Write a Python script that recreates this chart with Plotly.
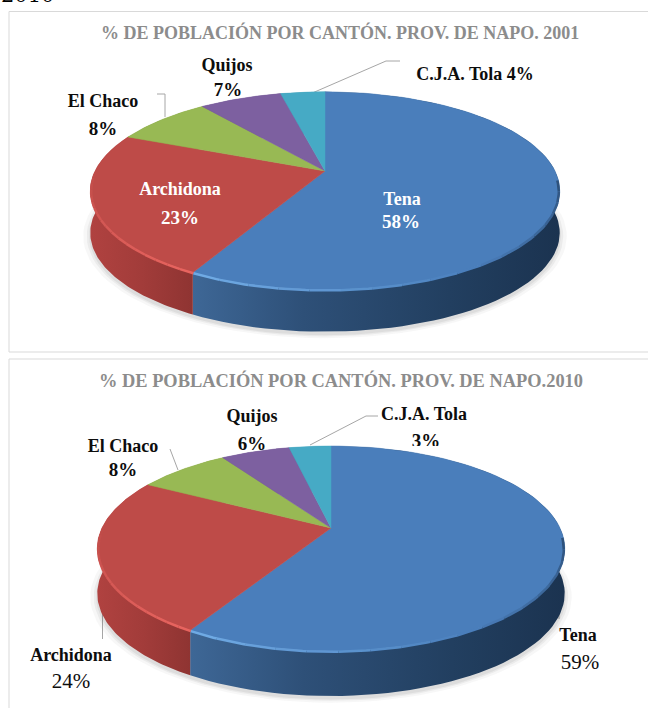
import math
import plotly.graph_objects as go

# ---- data ----
cantones = ["Tena", "Archidona", "El Chaco", "Quijos", "C.J.A. Tola"]
valores_2001 = [57.85, 23.45, 8.1, 6.9, 3.7]
etiquetas_2001 = ["58%", "23%", "8%", "7%", "4%"]
valores_2010 = [58.5, 24.5, 7.7, 5.8, 3.5]
etiquetas_2010 = ["59%", "24%", "8%", "6%", "3%"]
titulo_2001 = "% DE POBLACIÓN POR CANTÓN. PROV. DE NAPO. 2001"
titulo_2010 = "% DE POBLACIÓN POR CANTÓN. PROV. DE NAPO.2010"

# ---- styles ----
W, H = 648, 708
FONT = "Liberation Serif"
NOMBRE, PCT = 18, 19
cara = ["#4A7EBB", "#BE4B48", "#98B954", "#7D60A0", "#46AAC5"]
pared = [
    [[0, "#3E6796"], [0.3, "#2E5078"], [0.7, "#223F60"], [1, "#1B3350"]],
    [[0, "#B04240"], [0.5, "#A23C3A"], [1, "#8F3432"]],
    [[0, "#7A9440"], [1, "#7A9440"]],
    [[0, "#64497F"], [1, "#64497F"]],
    [[0, "#358CA3"], [1, "#358CA3"]],
]
K = 0.2  # perspective of the tilted disc

paneles = [
    dict(vals=valores_2001, x0=9, x1=648, y0=11.5, y1=352, cx=325, cy=171, a=230, b=95, depth=42, xa="x", ya="y"),
    dict(vals=valores_2010, x0=9, x1=648, y0=359, y1=708, cx=331, cy=528, a=229, b=98.4, depth=45, xa="x2", ya="y2"),
]


def proj(theta):
    u, v = math.sin(theta), math.cos(theta)
    d = 1 + K * v
    return u / d, v / d


def arco(t0, t1, n=90):
    pts = [proj(t0 + (t1 - t0) * i / n) for i in range(n + 1)]
    return [p[0] for p in pts], [p[1] for p in pts]


def mezcla(c1, c2, t):
    a = [int(c1[i:i + 2], 16) for i in (1, 3, 5)]
    b = [int(c2[i:i + 2], 16) for i in (1, 3, 5)]
    return "#%02x%02x%02x" % tuple(round(a[i] + (b[i] - a[i]) * t) for i in range(3))


fig = go.Figure()


def texto(p, etiquetas):
    xs = [(e[1] - p["cx"]) / p["a"] for e in etiquetas]
    ys = [(p["cy"] - e[2]) / p["b"] for e in etiquetas]
    fig.add_trace(go.Scatter(
        x=xs, y=ys, mode="text", text=[e[0] for e in etiquetas],
        textposition="middle center", cliponaxis=False,
        textfont=dict(family=FONT, size=[e[3] for e in etiquetas], color=[e[4] for e in etiquetas]),
        xaxis=p["xa"], yaxis=p["ya"], hoverinfo="skip", showlegend=False))


def linea(p, pts, color="#A6A6A6", width=1):
    fig.add_trace(go.Scatter(
        x=[(q[0] - p["cx"]) / p["a"] for q in pts],
        y=[(p["cy"] - q[1]) / p["b"] for q in pts],
        mode="lines", line=dict(color=color, width=width),
        xaxis=p["xa"], yaxis=p["ya"], hoverinfo="skip", showlegend=False))


def tapa(p, x0, x1, y0, y1):
    fig.add_trace(go.Scatter(
        x=[(q - p["cx"]) / p["a"] for q in (x0, x1, x1, x0, x0)],
        y=[(p["cy"] - q) / p["b"] for q in (y0, y0, y1, y1, y0)],
        mode="lines", fill="toself", fillcolor="#FFFFFF", line=dict(width=0),
        xaxis=p["xa"], yaxis=p["ya"], hoverinfo="skip", showlegend=False))


def pastel(p):
    vals = p["vals"]
    total = sum(vals)
    dz = p["depth"] / p["b"]
    xa, ya = p["xa"], p["ya"]
    cortes = [0]
    for v in vals:
        cortes.append(cortes[-1] + v / total * 2 * math.pi)
    # soft shadow under the disc
    xb, yb = arco(0, 2 * math.pi, 120)
    for grow, alpha in ((1.03, 0.05), (1.015, 0.07), (1.005, 0.09)):
        fig.add_trace(go.Scatter(
            x=[q * grow for q in xb], y=[q * grow - dz - 0.03 for q in yb],
            mode="lines", fill="toself", fillcolor=f"rgba(90,90,90,{alpha})", line=dict(width=0),
            xaxis=xa, yaxis=ya, hoverinfo="skip", showlegend=False))
    # side wall of every slice
    for i in range(len(vals)):
        xs, ys = arco(cortes[i], cortes[i + 1])
        fig.add_trace(go.Scatter(
            x=xs + xs[::-1], y=ys + [q - dz for q in ys[::-1]],
            mode="lines", fill="toself", line=dict(width=0),
            fillgradient=dict(type="horizontal", colorscale=pared[i]),
            xaxis=xa, yaxis=ya, hoverinfo="skip", showlegend=False))
    # top face of every slice
    for i in range(len(vals)):
        xs, ys = arco(cortes[i], cortes[i + 1])
        fig.add_trace(go.Scatter(
            x=[0] + xs + [0], y=[0] + ys + [0], name=cantones[i],
            mode="lines", fill="toself", fillcolor=cara[i], line=dict(width=0.5, color=cara[i]),
            xaxis=xa, yaxis=ya, hoverinfo="name", showlegend=False))
    # bevel on the front rim
    t_corte = cortes[1]
    pasos = 18
    for j in range(pasos):
        f0, f1 = j / pasos, (j + 1) / pasos
        t0 = t_corte - (t_corte - math.radians(95)) * f0
        t1 = t_corte - (t_corte - math.radians(95)) * f1
        if f0 < 0.5:
            col = mezcla("#6FAAE4", "#4A7EBB", f0 / 0.5)
        else:
            col = mezcla("#4A7EBB", "#2B4C74", (f0 - 0.5) / 0.5)
        xs, ys = arco(t0, t1, 8)
        fig.add_trace(go.Scatter(
            x=[q * 0.996 for q in xs], y=[q * 0.996 - 0.012 for q in ys], mode="lines",
            line=dict(color=col, width=2.5), xaxis=xa, yaxis=ya, hoverinfo="skip", showlegend=False))
        t0 = t_corte + (math.radians(270) - t_corte) * f0
        t1 = t_corte + (math.radians(270) - t_corte) * f1
        col = mezcla("#E8645F", "#BE4B48", f0)
        xs, ys = arco(t0, t1, 8)
        fig.add_trace(go.Scatter(
            x=[q * 0.996 for q in xs], y=[q * 0.996 - 0.012 for q in ys], mode="lines",
            line=dict(color=col, width=2.5), xaxis=xa, yaxis=ya, hoverinfo="skip", showlegend=False))


# ---- panel 2001 ----
p = paneles[0]
e = etiquetas_2001
texto(p, [
    (f"<b>{cantones[3]}</b>", 227, 66, NOMBRE, "#0D0D0D"),
    (f"<b>{e[3]}</b>", 228, 91, PCT, "#0D0D0D"),
    (f"<b>{cantones[2]}</b>", 103, 102, NOMBRE, "#0D0D0D"),
    (f"<b>{e[2]}</b>", 103, 130, PCT, "#0D0D0D"),
    (f"<b>{cantones[4]} {e[4]}</b>", 475, 75, NOMBRE, "#0D0D0D"),
])
linea(p, [(310, 94), (386, 61), (400, 61)])
linea(p, [(165, 117), (165, 94), (157, 94)])
pastel(p)
texto(p, [
    (f"<b>{cantones[1]}</b>", 180, 190, NOMBRE, "#FFFFFF"),
    (f"<b>{e[1]}</b>", 180, 219, PCT, "#FFFFFF"),
    (f"<b>{cantones[0]}</b>", 402, 200, NOMBRE, "#FFFFFF"),
    (f"<b>{e[0]}</b>", 401, 223, PCT, "#FFFFFF"),
])

# ---- panel 2010 ----
p = paneles[1]
e = etiquetas_2010
texto(p, [
    (f"<b>{cantones[3]}</b>", 252, 417, NOMBRE, "#0D0D0D"),
    (f"<b>{e[3]}</b>", 252, 445, PCT, "#0D0D0D"),
    (f"<b>{cantones[2]}</b>", 123, 447, NOMBRE, "#0D0D0D"),
    (f"<b>{e[2]}</b>", 123, 471, PCT, "#0D0D0D"),
    (f"<b>{cantones[4]}</b>", 424, 415, NOMBRE, "#0D0D0D"),
    (f"<b>{e[4]}</b>", 426, 442, PCT, "#0D0D0D"),
    (f"<b>{cantones[1]}</b>", 71, 656, NOMBRE, "#0D0D0D"),
    (e[1], 71, 683, 21, "#0D0D0D"),
    (f"<b>{cantones[0]}</b>", 578, 636, NOMBRE, "#0D0D0D"),
    (e[0], 580, 664, 21, "#0D0D0D"),
])
tapa(p, 395, 460, 446, 462)
linea(p, [(310, 445), (366, 416), (378, 416)])
linea(p, [(178, 470), (170, 449)])
linea(p, [(102.5, 590), (102.5, 639)])
linea(p, [(559, 590), (559, 619)])
pastel(p)

# ---- layout ----
layout = dict(
    width=W, height=H, margin=dict(l=0, r=0, t=0, b=0),
    paper_bgcolor="#FFFFFF", plot_bgcolor="rgba(0,0,0,0)", showlegend=False,
    annotations=[
        dict(text="<b>" + titulo_2001 + "</b>", xref="paper", yref="paper", x=340 / W, y=1 - 33 / H,
             xanchor="center", yanchor="middle", showarrow=False,
             font=dict(family=FONT, size=18, color="#8C8C8C")),
        dict(text="<b>" + titulo_2010 + "</b>", xref="paper", yref="paper", x=341 / W, y=1 - 380 / H,
             xanchor="center", yanchor="middle", showarrow=False,
             font=dict(family=FONT, size=18.4, color="#8C8C8C")),
        dict(text="2010", xref="paper", yref="paper", x=0, y=1 - 8 / H,
             xanchor="left", yanchor="bottom", showarrow=False, borderpad=0,
             font=dict(family="DejaVu Serif", size=21, color="#000000")),
    ],
    shapes=[
        dict(type="rect", xref="paper", yref="paper", x0=9 / W, x1=1.01, y0=1 - 352 / H, y1=1 - 11.5 / H,
             line=dict(color="#D9D9D9", width=1), layer="below"),
        dict(type="rect", xref="paper", yref="paper", x0=9 / W, x1=1.01, y0=-0.01, y1=1 - 359 / H,
             line=dict(color="#D9D9D9", width=1), layer="below"),
    ],
)
for i, p in enumerate(paneles):
    sx = "" if i == 0 else "2"
    layout["xaxis" + sx] = dict(
        domain=[p["x0"] / W, p["x1"] / W], visible=False, fixedrange=True,
        range=[(p["x0"] - p["cx"]) / p["a"], (p["x1"] - p["cx"]) / p["a"]], anchor="y" + sx)
    layout["yaxis" + sx] = dict(
        domain=[1 - p["y1"] / H, 1 - p["y0"] / H], visible=False, fixedrange=True,
        range=[(p["cy"] - p["y1"]) / p["b"], (p["cy"] - p["y0"]) / p["b"]], anchor="x" + sx)
fig.update_layout(**layout)
fig.write_html("out.html", config={"displayModeBar": False},
               post_script="document.body.style.margin='0';document.documentElement.style.overflow='hidden';")
